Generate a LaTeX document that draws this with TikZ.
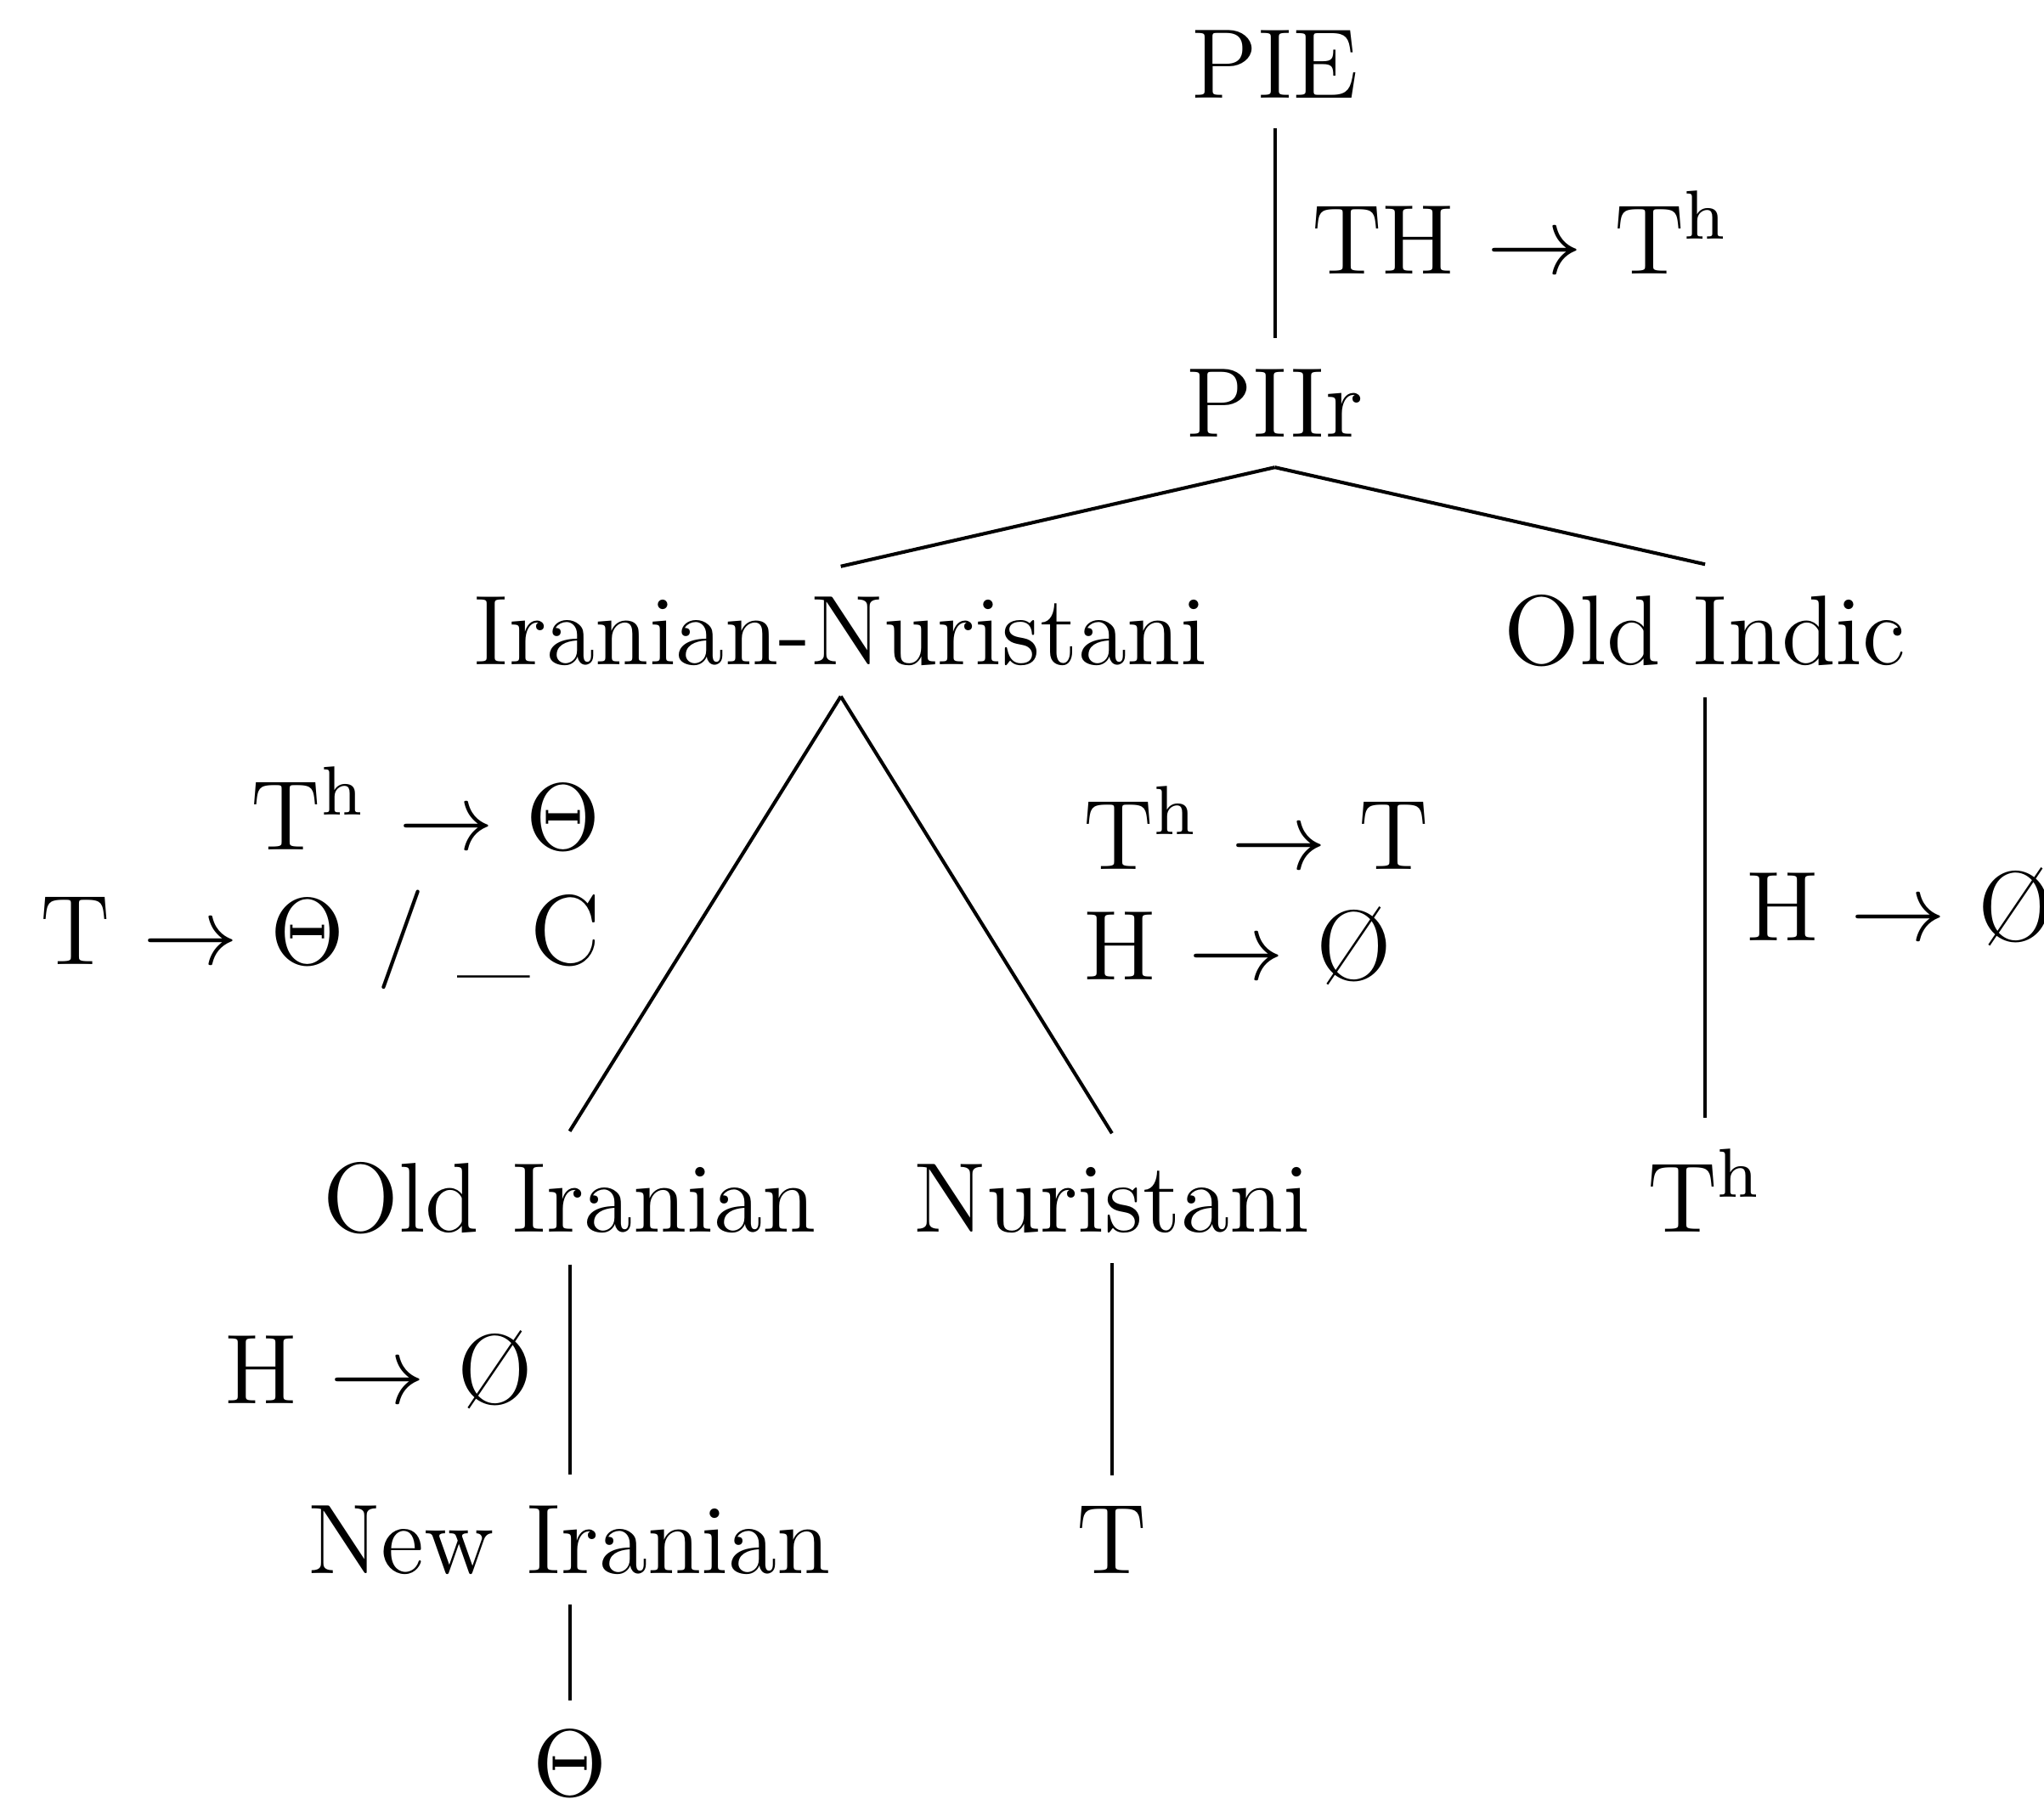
\documentclass[tikz,border=0pt]{standalone}
\usepackage{tikz}
\newcommand{\Tasp}{T\ensuremath{^{\mathrm{h}}}}
\newcommand{\arr}{\ensuremath{\rightarrow}}
\newcommand{\nul}{\O}

\begin{document}
\begin{tikzpicture}[x=0.15pt,y=-0.15pt,every node/.style={font=\fontsize{11.4}{13.5}\selectfont},
  lang/.style={anchor=base},
  ruleL/.style={anchor=base west,inner sep=0pt},
  ruleR/.style={anchor=base east,inner sep=0pt}]
  \useasboundingbox (0,0) rectangle (1568,1393);
  % tree nodes
  \node[lang] (pie) at (978,75){PIE};
  \node[lang] (piir) at (978,335){PIIr};
  \node[lang] (irnur) at (645,510){Iranian-Nuristani};
  \node[lang] (oldind) at (1308,510){Old Indic};
  \node[lang] (oldir) at (437,945){Old Iranian};
  \node[lang] (nur) at (853,945){Nuristani};
  \node[lang] (thind) at (1308,945){\Tasp};
  \node[lang] (newir) at (437,1207){New Iranian};
  \node[lang] (tnur) at (853,1207){T};
  \node[lang] (theta) at (437,1378){$\Theta$};
  % branches
  \draw (pie) -- (piir);
  \draw (piir.south) -- (irnur.north);
  \draw (piir.south) -- (oldind.north);
  \draw (irnur.south) -- (oldir.north);
  \draw (irnur.south) -- (nur.north);
  \draw (oldind) -- (thind);
  \draw (oldir) -- (newir);
  \draw (nur) -- (tnur);
  \draw (newir) -- (theta);
  % sound changes
  \node[ruleL] (chpie) at (1005,210){TH \arr{} \Tasp};
  \node[ruleR] (chirA) at (462,652){\Tasp{} \arr{} $\Theta$};
  \node[ruleR] (chirB) at (462,740){T \arr{} $\Theta$ / \_C};
  \node[ruleL] (chnurA) at (830,667){\Tasp{} \arr{} T};
  \node[ruleL] (chnurB) at (830,752){H \arr{} \nul};
  \node[ruleL] (chind) at (1338,722){H \arr{} \nul};
  \node[ruleR] (chnew) at (410,1077){H \arr{} \nul};
\end{tikzpicture}
\end{document}
